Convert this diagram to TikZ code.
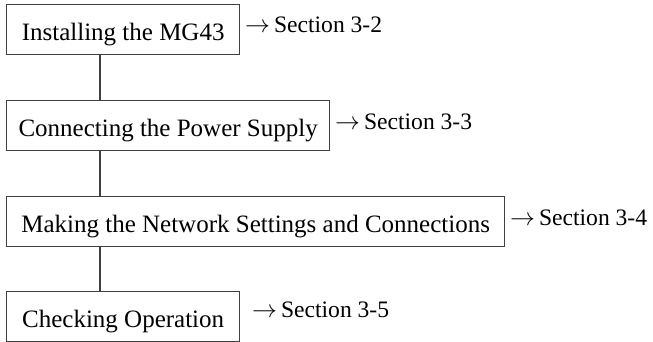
\documentclass[tikz,border=0pt]{standalone}
\usepackage{fontspec}
\setmainfont{Liberation Serif}
\begin{document}
\begin{tikzpicture}[x=1pt,y=-1pt,
  stepbox/.style={draw=black!75, line width=1.3pt, rectangle, inner sep=0pt,
    minimum height=50pt, text height=22pt, text depth=1pt,
    font=\fontsize{25}{30}\selectfont, anchor=north west},
  seclabel/.style={inner sep=0pt, anchor=base west, font=\fontsize{23.6}{28}\selectfont},
  link/.style={draw=black!75, line width=1.3pt}]
\useasboundingbox (0,0) rectangle (653,342);
\node[stepbox, minimum width=233pt] (b1) at (6,4) {Installing the MG43};
\node[stepbox, minimum width=323pt] (b2) at (6,100) {Connecting the Power Supply};
\node[stepbox, minimum width=498pt] (b3) at (6,196) {Making the Network Settings and Connections};
\node[stepbox, minimum width=233pt] (b4) at (6,291) {Checking Operation};
\node[seclabel] (l1) at (245,33) {$\rightarrow$\,Section 3-2};
\node[seclabel] (l2) at (335,129) {$\rightarrow$\,Section 3-3};
\node[seclabel] (l3) at (510,225) {$\rightarrow$\,Section 3-4};
\node[seclabel] (l4) at (252,317) {$\rightarrow$\,Section 3-5};
\draw[link] ([xshift=94pt]b1.south west) -- ([xshift=94pt]b2.north west);
\draw[link] ([xshift=94pt]b2.south west) -- ([xshift=94pt]b3.north west);
\draw[link] ([xshift=94pt]b3.south west) -- ([xshift=94pt]b4.north west);
\end{tikzpicture}
\end{document}
